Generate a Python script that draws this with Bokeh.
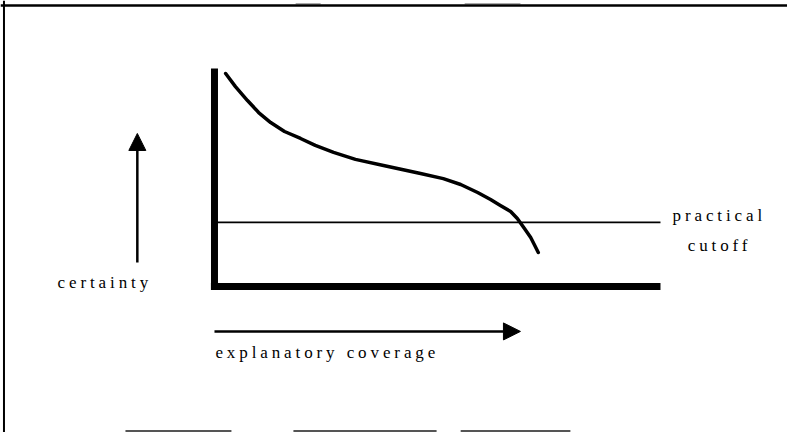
from bokeh.plotting import figure
from bokeh.models import Range1d, Arrow, NormalHead, Span, ColumnDataSource
from bokeh.core.properties import value
from bokeh.embed import file_html
from bokeh.resources import INLINE

# ---- data (chart units: coverage 0..100 along x, certainty 0..100 along y) ----
coverage = [2.5, 4.7, 7.4, 9.9, 12.6, 15.7, 19.3, 22.6, 26.7, 31.6, 37.9, 46.2,
            51.3, 55.2, 59.0, 61.9, 64.1, 66.4, 67.9, 69.5, 70.9, 71.7, 72.6]
certainty = [97.7, 91.7, 85.3, 79.8, 75.2, 71.1, 67.9, 64.7, 61.5, 58.3, 55.5, 51.8,
             49.5, 46.8, 43.1, 39.9, 37.2, 34.4, 31.2, 26.6, 22.5, 19.3, 15.6]
cutoff_level = 29.4
axis_start_x = -0.8
axis_start_y = -1.6
axis_max_x = 100
axis_max_y = 100

# arrows and labels
v_arrow_x = -17.3
v_arrow_y = [11.0, 70.2]
h_arrow_y = -20.6
h_arrow_x = [0.0, 68.6]
label_certainty = "certainty"
label_coverage = "explanatory coverage"
label_cutoff = ["practical", "cutoff"]
cutoff_label_x = [102.7, 106.1]
cutoff_label_y = [32.6, 18.8]
certainty_label_pos = (-35.2, 1.8)
coverage_label_pos = (0.2, -30.3)

# view window and frame
x_lo, x_hi = -47.98, 128.48
y_lo, y_hi = -66.97, 131.19
frame_left = -47.2
frame_top = 128.9
scan_bottom_x0 = [-19.96, 17.7, 55.2]
scan_bottom_x1 = [3.8, 49.8, 79.8]
scan_bottom_y = -66.3
scan_top_x0 = [18.2, 56.1]
scan_top_x1 = [23.8, 68.6]
scan_top_y = 129.7

FONT = value("Liberation Serif")

p = figure(width=787, height=432, output_backend="svg", toolbar_location=None,
           x_range=Range1d(x_lo, x_hi), y_range=Range1d(y_lo, y_hi),
           min_border=0, min_border_left=0, min_border_right=0,
           min_border_top=0, min_border_bottom=0)
p.xaxis.visible = False
p.yaxis.visible = False
p.grid.visible = False
p.outline_line_color = None
p.background_fill_color = "white"
p.border_fill_color = "white"
p.styles = {"letter-spacing": "3.9px"}

# frame of the figure (top and left edges)
p.add_layout(Span(location=frame_left, dimension="height", line_color="black", line_width=2))
p.add_layout(Span(location=frame_top, dimension="width", line_color="black", line_width=2.5))

# scan artifacts
p.segment(x0=scan_bottom_x0, x1=scan_bottom_x1, y0=[scan_bottom_y] * 3, y1=[scan_bottom_y] * 3,
          line_color="#555555", line_width=2)
p.segment(x0=scan_top_x0, x1=scan_top_x1, y0=[scan_top_y] * 2, y1=[scan_top_y] * 2,
          line_color="#aaaaaa", line_width=1.5)

# practical cutoff line
p.segment(x0=[0], x1=[axis_max_x], y0=[cutoff_level], y1=[cutoff_level],
          line_color="black", line_width=1.6)

# curve
src = ColumnDataSource(dict(x=coverage, y=certainty))
p.line("x", "y", source=src, line_color="black", line_width=3.5,
       line_join="round", line_cap="round")

# axes (thick bars)
p.segment(x0=[0, axis_start_x], x1=[0, axis_max_x], y0=[axis_start_y, 0], y1=[axis_max_y, 0],
          line_color="black", line_width=7, line_cap="butt")

# arrows
p.add_layout(Arrow(end=NormalHead(size=17, fill_color="black", line_color="black"),
                   x_start=v_arrow_x, y_start=v_arrow_y[0],
                   x_end=v_arrow_x, y_end=v_arrow_y[1],
                   line_color="black", line_width=2.5))
p.add_layout(Arrow(end=NormalHead(size=17, fill_color="black", line_color="black"),
                   x_start=h_arrow_x[0], y_start=h_arrow_y,
                   x_end=h_arrow_x[1], y_end=h_arrow_y,
                   line_color="black", line_width=2.5))

# labels
text_style = dict(text_font=FONT, text_font_size="17px", text_font_style="normal",
                  text_align="left", text_baseline="middle", text_color="black")
p.text(x=[certainty_label_pos[0]], y=[certainty_label_pos[1]], text=[label_certainty], **text_style)
p.text(x=[coverage_label_pos[0]], y=[coverage_label_pos[1]], text=[label_coverage], **text_style)
p.text(x=cutoff_label_x, y=cutoff_label_y, text=label_cutoff, **text_style)

open("out.html", "w").write(file_html(p, INLINE))
